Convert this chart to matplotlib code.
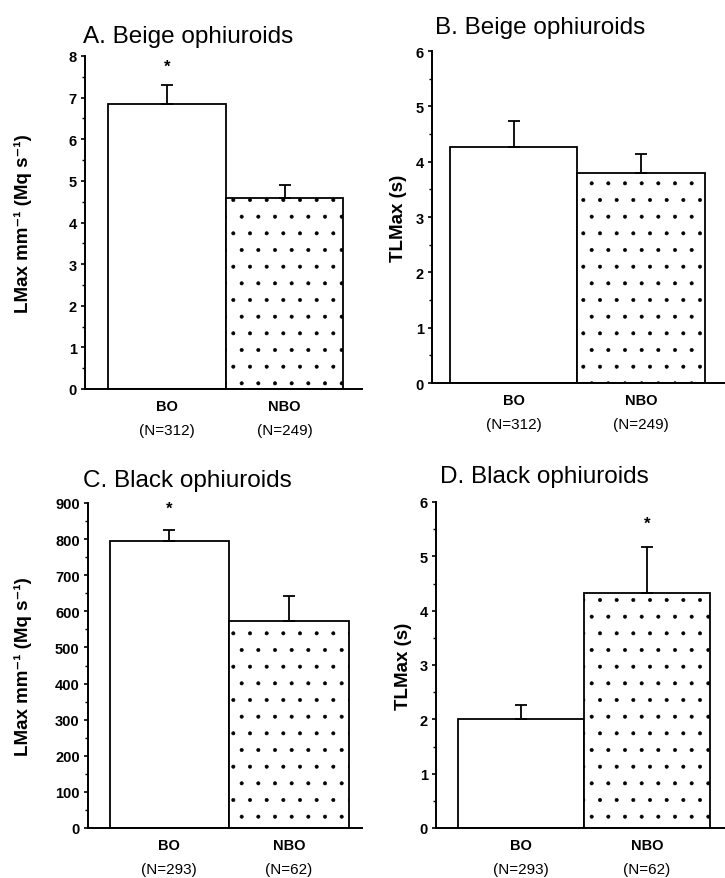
#Recreate four-panel bar chart of ophiuroid light/time maxima

import matplotlib
matplotlib.use('Agg')
import matplotlib.pyplot as plt
from matplotlib.ticker import MultipleLocator

plt.rcParams['font.family'] = ['Liberation Sans', 'DejaVu Sans']
plt.rcParams['hatch.linewidth'] = 0.4

#group labels and sample sizes
groups = ['BO', 'NBO']
n_beige = ['(N=312)', '(N=249)']
n_black = ['(N=293)', '(N=62)']

#bar heights (means) and upper error bars
a_means = [6.85, 4.58]
a_err = [0.45, 0.32]
b_means = [4.26, 3.80]
b_err = [0.47, 0.33]
c_means = [795, 572]
c_err = [31, 70]
d_means = [2.0, 4.33]
d_err = [0.27, 0.84]

#significance stars (group index, height)
a_star = (0, 7.75)
c_star = (0, 885)
d_star = (1, 5.6)

titles = ['A. Beige ophiuroids', 'B. Beige ophiuroids',
          'C. Black ophiuroids', 'D. Black ophiuroids']
lmax_label = 'LMax mm\u207b\u00b9 (Mq s\u207b\u00b9)'
tlmax_label = 'TLMax (s)'

W, H = 725, 879
fig = plt.figure(figsize=(W / 100, H / 100), dpi=100)

#panel layout in pixels: left, top, right, bottom
boxes = [(85, 57, 362, 390), (432, 52, 725, 384),
         (88, 504, 362, 829), (436, 503, 725, 829)]
xlims = [(-0.70, 1.66), (-0.64, 1.66), (-0.68, 1.61), (-0.675, 1.62)]
title_pos = [(83, 43), (435, 34), (83, 487), (440, 483)]
label_x = [-0.191, -0.085, -0.204, -0.083]


def make_panel(i, means, err, ymax, major, minor, ylabel, ns, star=None):
	l, t, r, b = boxes[i]
	ax = fig.add_axes([l / W, 1 - b / H, (r - l) / W, (b - t) / H])
	x = [0, 1]
	ax.bar(x[0], means[0], width=1.0, color='white', edgecolor='black', linewidth=1.3)
	ax.bar(x[1], means[1], width=1.0, color='white', edgecolor='black', linewidth=1.3,
		   hatch='.')
	ax.errorbar(x, means, yerr=[[0, 0], err], fmt='none', ecolor='black',
				elinewidth=1.3, capsize=4, capthick=1.3)
	if star is not None:
		ax.text(x[star[0]], star[1], '*', ha='center', va='center',
				fontsize=12, fontweight='bold')
	ax.set_xlim(*xlims[i])
	ax.set_ylim(0, ymax)
	ax.yaxis.set_major_locator(MultipleLocator(major))
	ax.yaxis.set_minor_locator(MultipleLocator(minor))
	ax.tick_params(axis='y', which='major', direction='out', length=3, width=1.2,
				   labelsize=10.5, pad=3)
	ax.tick_params(axis='y', which='minor', direction='out', length=2, width=1)
	for lab in ax.get_yticklabels():
		lab.set_fontweight('bold')
	ax.set_xticks([])
	ax.spines['top'].set_visible(False)
	ax.spines['right'].set_visible(False)
	ax.spines['left'].set_linewidth(1.4)
	ax.spines['bottom'].set_linewidth(1.4)
	ax.set_ylabel(ylabel, fontsize=13.5, fontweight='bold')
	ax.yaxis.set_label_coords(label_x[i], 0.5)
	#group names below the axis
	for xi, g, n in zip(x, groups, ns):
		ax.annotate(g, xy=(xi, 0), xycoords=('data', 'axes fraction'),
					xytext=(0, -12.5), textcoords='offset points',
					ha='center', va='center', fontsize=10.5, fontweight='bold')
		ax.annotate(n, xy=(xi, 0), xycoords=('data', 'axes fraction'),
					xytext=(0, -29.5), textcoords='offset points',
					ha='center', va='center', fontsize=11)
	tx, ty = title_pos[i]
	fig.text(tx / W, 1 - ty / H, titles[i], fontsize=17.5, va='baseline', ha='left')
	return ax


make_panel(0, a_means, a_err, 8, 1, 0.5, lmax_label, n_beige, a_star)
make_panel(1, b_means, b_err, 6, 1, 0.5, tlmax_label, n_beige)
make_panel(2, c_means, c_err, 900, 100, 50, lmax_label, n_black, c_star)
make_panel(3, d_means, d_err, 6, 1, 0.5, tlmax_label, n_black, d_star)

plt.savefig('out.png', dpi=100)
plt.close()
